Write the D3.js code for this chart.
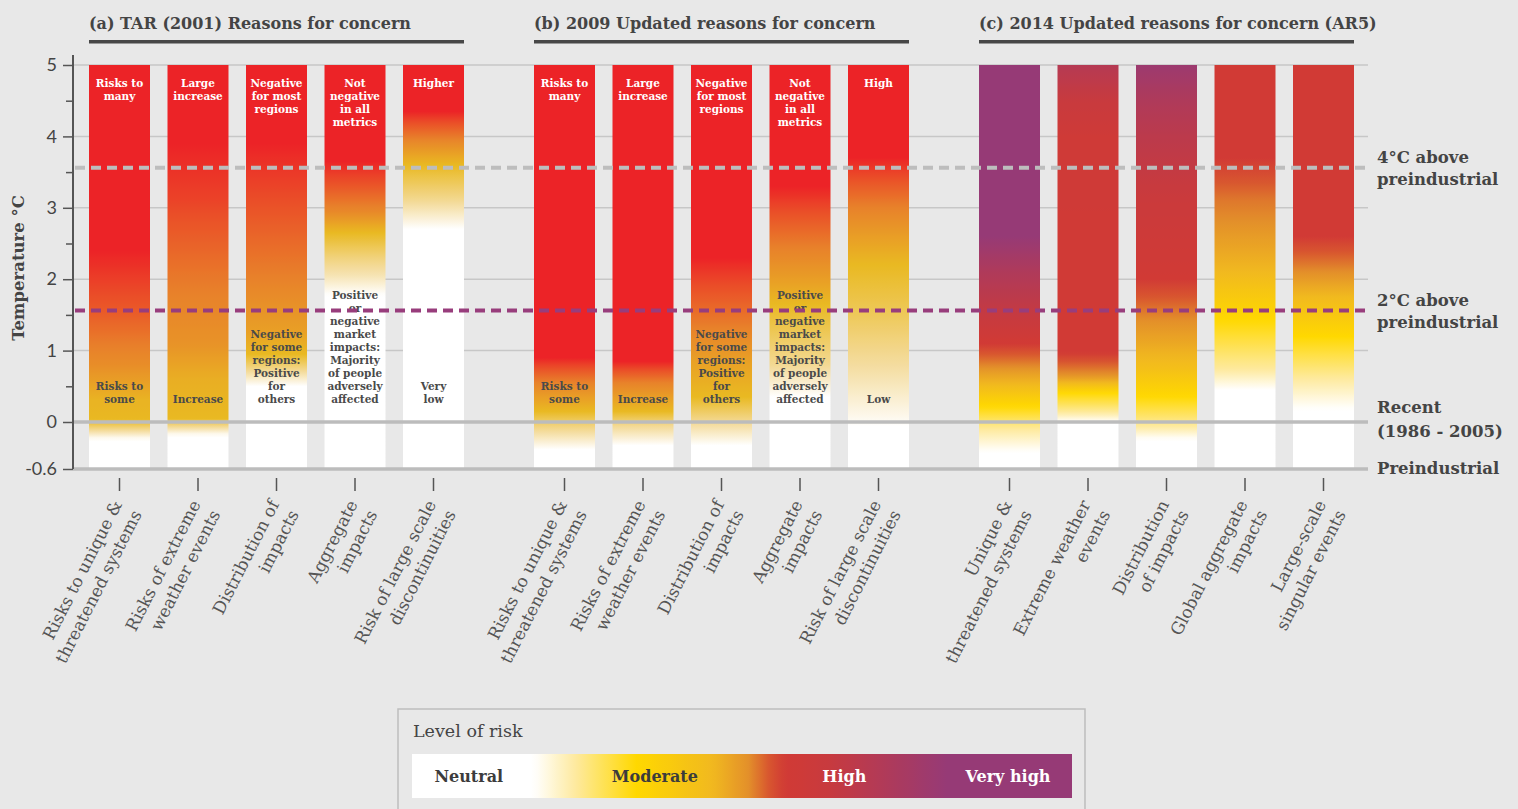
<!DOCTYPE html>
<html>
<head>
<meta charset="utf-8">
<script src="https://cdn.jsdelivr.net/npm/d3@7"></script>
<style>
  body { margin: 0; background: #e8e8e8; }
  svg { display: block; }
  .slab { font-family: "DejaVu Serif", serif; }
</style>
</head>
<body>
<svg id="chart" width="1518" height="809"></svg>
<script>
// ---------- data ----------
const panelTitles = [
  "(a) TAR (2001) Reasons for concern",
  "(b) 2009 Updated reasons for concern",
  "(c) 2014 Updated reasons for concern (AR5)"
];

const concernLabels = [
  [["Risks to unique &", "threatened systems"], ["Risks of extreme", "weather events"], ["Distribution of", "impacts"], ["Aggregate", "impacts"], ["Risk of large scale", "discontinuities"]],
  [["Risks to unique &", "threatened systems"], ["Risks of extreme", "weather events"], ["Distribution of", "impacts"], ["Aggregate", "impacts"], ["Risk of large scale", "discontinuities"]],
  [["Unique &", "threatened systems"], ["Extreme weather", "events"], ["Distribution", "of impacts"], ["Global aggregate", "impacts"], ["Large-scale", "singular events"]]
];

const topNotes = [
  [["Risks to", "many"], ["Large", "increase"], ["Negative", "for most", "regions"], ["Not", "negative", "in all", "metrics"], ["Higher"]],
  [["Risks to", "many"], ["Large", "increase"], ["Negative", "for most", "regions"], ["Not", "negative", "in all", "metrics"], ["High"]],
  [[], [], [], [], []]
];

const bottomNotes = [
  [["Risks to", "some"], ["Increase"], ["Negative", "for some", "regions:", "Positive", "for", "others"], ["Positive", "or", "negative", "market", "impacts:", "Majority", "of people", "adversely", "affected"], ["Very", "low"]],
  [["Risks to", "some"], ["Increase"], ["Negative", "for some", "regions:", "Positive", "for", "others"], ["Positive", "or", "negative", "market", "impacts:", "Majority", "of people", "adversely", "affected"], ["Low"]],
  [[], [], [], [], []]
];

// risk level along each bar: [temperature, level]  (0 neutral, 1 moderate, 2 high, 3 very high)
const riskStopsTAR = [
  [[5, 2], [2.4, 2], [1.6, 1.75], [0.8, 1.4], [0.3, 1.05], [0.02, 1], [-0.1, 0.5], [-0.22, 0]],
  [[5, 2], [3.9, 2], [3.1, 1.85], [2.0, 1.55], [1.1, 1.35], [0.6, 1.1], [0.05, 1], [-0.06, 0.5], [-0.17, 0]],
  [[5, 2], [3.9, 2], [3.1, 1.8], [2.0, 1.5], [1.3, 1.25], [0.95, 1], [0.7, 0.45], [0.5, 0]],
  [[5, 2], [3.65, 2], [3.3, 1.75], [2.95, 1.45], [2.65, 1], [2.3, 0.6], [2.05, 0.35], [1.78, 0]],
  [[5, 2], [4.35, 2], [4.0, 1.55], [3.6, 1.0], [3.1, 0.5], [2.7, 0]]
];
const riskStops2009 = [
  [[5, 2], [0.9, 2], [0.55, 1.5], [0.15, 1], [-0.1, 0.5], [-0.35, 0]],
  [[5, 2], [0.85, 2], [0.55, 1.5], [0.15, 1], [-0.05, 0.5], [-0.3, 0]],
  [[5, 2], [2.3, 2], [1.4, 1.55], [0.8, 1.2], [0.35, 1.0], [0.0, 0.5], [-0.3, 0]],
  [[5, 2], [3.3, 2], [2.6, 1.6], [2.0, 1.25], [1.65, 1.0], [0.8, 0.5], [0.35, 0]],
  [[5, 2], [3.7, 2], [3.0, 1.5], [2.2, 1.0], [1.5, 0.75], [0.7, 0.4], [0, 0.05], [-0.02, 0]]
];
const riskStopsAR5 = [
  [[5, 3], [2.6, 3], [2.1, 2.6], [1.1, 2], [0.73, 1.5], [0.22, 1], [-0.1, 0.4], [-0.38, 0]],
  [[5, 2.5], [4.5, 2.2], [4.0, 2.05], [0.97, 2], [0.64, 1.5], [0.41, 1], [0.13, 0.4], [0.0, 0]],
  [[5, 2.9], [4.5, 2.6], [4.0, 2.4], [3.1, 2.15], [2.0, 2], [1.43, 1.55], [0.77, 1.25], [0.36, 1], [-0.06, 0.4], [-0.22, 0]],
  [[5, 2], [3.7, 2], [3.1, 1.65], [2.1, 1.3], [1.43, 1], [0.73, 0.4], [0.45, 0]],
  [[5, 2], [2.6, 2], [2.1, 1.55], [1.76, 1.3], [1.2, 1], [0.6, 0.4], [0.18, 0]]
];
const riskStops = [riskStopsTAR, riskStops2009, riskStopsAR5];

const tempTicks = [5, 4, 3, 2, 1, 0, -0.6];
const minorTicks = [4.5, 3.5, 2.5, 1.5, 0.5];
const warmingTemps = [3.56, 1.56];
const warmingLabels = [["4°C above", "preindustrial"], ["2°C above", "preindustrial"]];
const baseLabels = [["Recent", "(1986 - 2005)"], ["Preindustrial"]];
const legendLabels = ["Neutral", "Moderate", "High", "Very high"];

// ---------- colours ----------
const tarColor = d3.scaleLinear()
  .domain([0, 0.45, 1, 1.5, 1.8, 2])
  .range(["#ffffff", "#f4dc9e", "#e9b922", "#e8822a", "#ea4e28", "#ec2327"])
  .clamp(true);
const ar5Color = d3.scaleLinear()
  .domain([0, 0.4, 1, 1.3, 1.55, 1.8, 2, 2.2, 3])
  .range(["#ffffff", "#feeaa0", "#ffd800", "#f1b91f", "#e38f2a", "#d8562f", "#d13a35", "#c83a3e", "#963a76"])
  .clamp(true);
const palettes = [tarColor, tarColor, ar5Color];

// ---------- layout ----------
const svg = d3.select("#chart");
const axisX = 73, gridRight = 1368;
const y = d3.scaleLinear().domain([-0.6, 0, 5]).range([469, 422, 65]);
const panelX = d3.scaleBand().domain([0, 1, 2]).range([89, 1354]).paddingInner(0.1573);
const barX = d3.scaleBand().domain(d3.range(5)).range([0, panelX.bandwidth()]).paddingInner(0.223);

const defs = svg.append("defs");

// gridlines
svg.append("g").selectAll("line")
  .data(tempTicks.filter(t => t > 0))
  .join("line")
  .attr("x1", axisX).attr("x2", gridRight)
  .attr("y1", d => y(d)).attr("y2", d => y(d))
  .attr("stroke", "#c7c7c7").attr("stroke-width", 1.5);

// panel titles
const panels = svg.append("g").selectAll("g")
  .data(panelTitles)
  .join("g")
  .attr("transform", (d, i) => `translate(${panelX(i)},0)`);

panels.append("text")
  .attr("class", "slab")
  .attr("x", 0).attr("y", 29)
  .attr("font-size", 16).attr("font-weight", "bold")
  .attr("fill", "#444")
  .text(d => d);
panels.append("rect")
  .attr("x", 0).attr("y", 40)
  .attr("width", panelX.bandwidth()).attr("height", 3.5)
  .attr("fill", "#474747");

// bars with gradients
const sampleTemps = d3.range(5, -0.6001, -0.05);
riskStops.forEach((panel, p) => {
  panel.forEach((stops, i) => {
    const level = d3.scaleLinear()
      .domain(stops.map(s => s[0]))
      .range(stops.map(s => s[1]))
      .clamp(true);
    const grad = defs.append("linearGradient")
      .attr("id", `g${p}${i}`)
      .attr("gradientUnits", "userSpaceOnUse")
      .attr("x1", 0).attr("x2", 0)
      .attr("y1", y(5)).attr("y2", y(-0.6));
    grad.selectAll("stop")
      .data(sampleTemps)
      .join("stop")
      .attr("offset", t => (y(t) - y(5)) / (y(-0.6) - y(5)))
      .attr("stop-color", t => palettes[p](level(t)));
  });
});

panels.each(function (title, p) {
  const g = d3.select(this);
  const bars = g.selectAll("g.bar")
    .data(d3.range(5))
    .join("g")
    .attr("class", "bar")
    .attr("transform", i => `translate(${barX(i)},0)`);

  bars.append("rect")
    .attr("x", 0).attr("y", y(5))
    .attr("width", barX.bandwidth())
    .attr("height", y(-0.6) - y(5))
    .attr("fill", i => `url(#g${p}${i})`);

  bars.append("text")
    .attr("class", "slab")
    .attr("text-anchor", "middle")
    .attr("font-size", 10.5).attr("font-weight", "bold")
    .attr("fill", "#fff")
    .selectAll("tspan")
    .data(i => topNotes[p][i])
    .join("tspan")
    .attr("x", barX.bandwidth() / 2)
    .attr("y", (d, k) => 87 + k * 13)
    .text(d => d);

  bars.append("text")
    .attr("class", "slab")
    .attr("text-anchor", "middle")
    .attr("font-size", 10.5).attr("font-weight", "bold")
    .attr("fill", "#4a4a4a")
    .selectAll("tspan")
    .data(i => bottomNotes[p][i].map((t, k, arr) => ({ t, k, n: arr.length })))
    .join("tspan")
    .attr("x", barX.bandwidth() / 2)
    .attr("y", d => 403 - (d.n - 1 - d.k) * 13)
    .text(d => d.t);

  // x ticks
  const xAxis = g.append("g")
    .attr("transform", "translate(0,478)")
    .call(d3.axisBottom(barX).tickSize(13).tickFormat(""));
  xAxis.select(".domain").remove();
  xAxis.selectAll("line").attr("stroke", "#555").attr("stroke-width", 1.5);

  // category labels
  const labels = g.selectAll("g.lab")
    .data(d3.range(5))
    .join("g")
    .attr("class", "lab")
    .attr("transform", i => `translate(${barX(i) + barX.bandwidth() / 2 + 3},504) rotate(-63)`);
  labels.append("text")
    .attr("class", "slab")
    .attr("text-anchor", "end")
    .attr("font-size", 17)
    .attr("fill", "#555")
    .selectAll("tspan")
    .data(i => concernLabels[p][i])
    .join("tspan")
    .attr("x", 0)
    .attr("y", (d, k) => k * 22)
    .text(d => d);
});

// reference lines: recent and preindustrial
svg.append("g").selectAll("line")
  .data([0, -0.6])
  .join("line")
  .attr("x1", axisX).attr("x2", gridRight)
  .attr("y1", d => y(d)).attr("y2", d => y(d))
  .attr("stroke", "#bcbcbc").attr("stroke-width", 3.5);

// warming dashed lines
svg.append("g").selectAll("line")
  .data(warmingTemps)
  .join("line")
  .attr("x1", axisX + 2).attr("x2", gridRight)
  .attr("y1", d => y(d)).attr("y2", d => y(d))
  .attr("stroke", (d, i) => i === 0 ? "#bdbdbd" : "#983d7c")
  .attr("stroke-width", 4)
  .attr("stroke-dasharray", "10,6");

// right side labels
const rightLabels = svg.append("g").attr("class", "slab")
  .attr("font-size", 16.5).attr("font-weight", "bold").attr("fill", "#444");
warmingTemps.forEach((t, i) => {
  rightLabels.append("text")
    .selectAll("tspan")
    .data(warmingLabels[i])
    .join("tspan")
    .attr("x", 1377)
    .attr("y", (d, k) => y(t) - 5 + k * 22)
    .text(d => d);
});
rightLabels.append("text")
  .selectAll("tspan")
  .data(baseLabels[0])
  .join("tspan")
  .attr("x", 1377)
  .attr("y", (d, k) => y(0) - 9 + k * 24)
  .text(d => d);
rightLabels.append("text")
  .attr("x", 1377).attr("y", y(-0.6) + 5)
  .text(baseLabels[1][0]);

// y axis
const yAxis = svg.append("g")
  .attr("transform", `translate(${axisX},0)`)
  .call(d3.axisLeft(y).tickValues(tempTicks).tickSize(10).tickPadding(6).tickFormat(d => String(d)));
yAxis.select(".domain").remove();
yAxis.selectAll("line").attr("stroke", "#555").attr("stroke-width", 1.5);
yAxis.selectAll("text")
  .attr("font-family", "Lato, sans-serif")
  .attr("font-size", 18)
  .attr("fill", "#444");
const yMinor = svg.append("g")
  .attr("transform", `translate(${axisX},0)`)
  .call(d3.axisLeft(y).tickValues(minorTicks).tickSize(7).tickFormat(""));
yMinor.select(".domain").remove();
yMinor.selectAll("line").attr("stroke", "#555").attr("stroke-width", 1.5);
svg.append("line")
  .attr("x1", axisX).attr("x2", axisX)
  .attr("y1", 55).attr("y2", y(-0.6))
  .attr("stroke", "#555").attr("stroke-width", 2);

svg.append("text")
  .attr("class", "slab")
  .attr("transform", "translate(24,268) rotate(-90)")
  .attr("text-anchor", "middle")
  .attr("font-size", 16.5).attr("font-weight", "bold")
  .attr("fill", "#444")
  .text("Temperature °C");

// ---------- legend ----------
const legend = svg.append("g");
legend.append("rect")
  .attr("x", 398).attr("y", 709)
  .attr("width", 687).attr("height", 130)
  .attr("fill", "none").attr("stroke", "#bdbdbd").attr("stroke-width", 1.5);
legend.append("text")
  .attr("class", "slab")
  .attr("x", 413).attr("y", 737)
  .attr("font-size", 17.5).attr("fill", "#444")
  .text("Level of risk");

const legendX = d3.scaleLinear().domain([0, 1]).range([412, 1072]);
const legendLevel = d3.scaleLinear()
  .domain([0, 0.185, 0.34, 0.455, 0.51, 0.565, 0.63, 0.81, 1])
  .range([0, 0, 1, 1.3, 1.55, 2, 2.2, 3, 3]);
const lg = defs.append("linearGradient").attr("id", "legendGrad");
lg.selectAll("stop")
  .data(d3.range(0, 1.0001, 0.01))
  .join("stop")
  .attr("offset", f => f)
  .attr("stop-color", f => ar5Color(legendLevel(f)));
legend.append("rect")
  .attr("x", legendX(0)).attr("y", 754)
  .attr("width", legendX(1) - legendX(0)).attr("height", 44)
  .attr("fill", "url(#legendGrad)");

const legendPos = [0.086, 0.368, 0.655, 0.903];
legend.selectAll("text.lab")
  .data(legendLabels)
  .join("text")
  .attr("class", "lab slab")
  .attr("x", (d, i) => legendX(legendPos[i]))
  .attr("y", 782)
  .attr("text-anchor", "middle")
  .attr("font-size", 16).attr("font-weight", "bold")
  .attr("fill", (d, i) => i < 2 ? "#3c3c3c" : "#fff")
  .text(d => d);
</script>
</body>
</html>
